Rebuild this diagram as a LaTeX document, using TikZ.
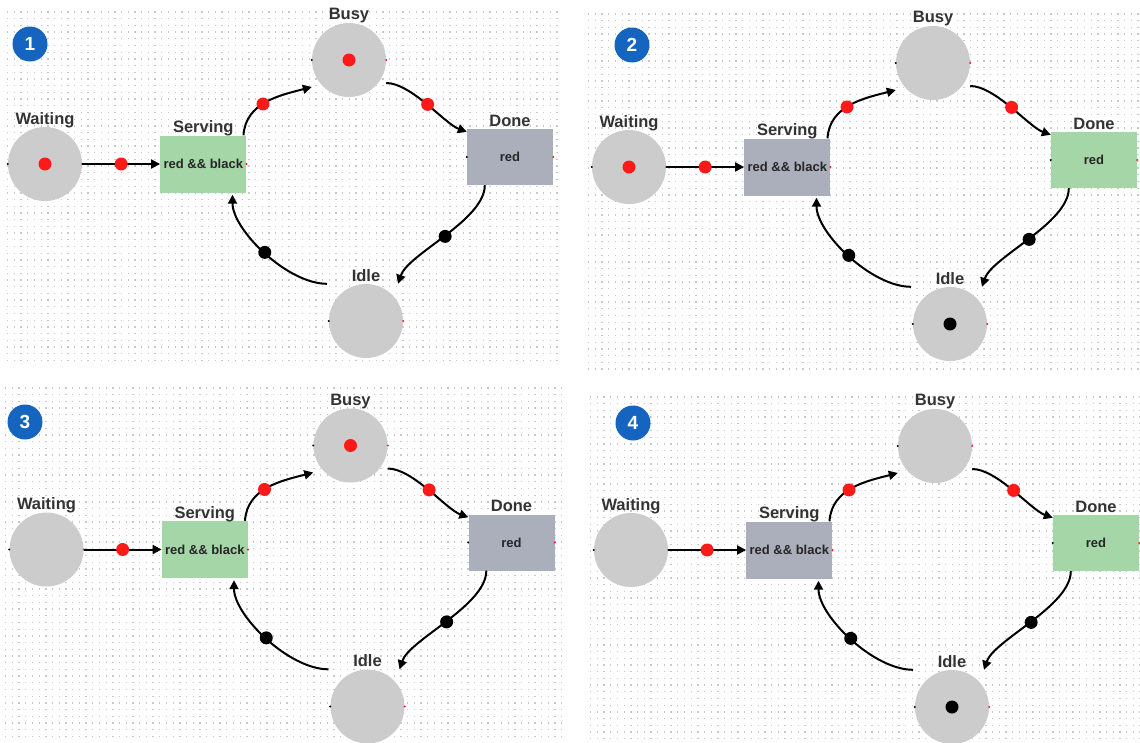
\documentclass[tikz,border=0pt]{standalone}
\usepackage{fontspec}
\setmainfont{Liberation Sans}
\usetikzlibrary{arrows.meta}

\definecolor{placegray}{HTML}{CCCCCC}
\definecolor{trangreen}{HTML}{A5D6A7}
\definecolor{trangray}{HTML}{ABAFBB}
\definecolor{tokred}{HTML}{FF1A1A}
\definecolor{badgeblue}{HTML}{1565C0}
\definecolor{dotgray}{HTML}{C8C8C8}
\definecolor{labelgray}{HTML}{333333}

\tikzset{
  place/.style={circle, fill=placegray, minimum size=74pt, inner sep=0pt},
  trans/.style={rectangle, fill=#1, minimum width=86pt, minimum height=57pt, inner sep=0pt,
    font=\bfseries\fontsize{13}{14}\selectfont, text=black!85},
  lbl/.style={anchor=base, inner sep=0pt, font=\bfseries\fontsize{16.5}{18}\selectfont, text=labelgray},
  redtok/.style={circle, fill=tokred, minimum size=13pt, inner sep=0pt},
  blacktok/.style={circle, fill=black, minimum size=13pt, inner sep=0pt},
  port/.style={circle, fill=#1, minimum size=2.2pt, inner sep=0pt},
  arc/.style={line width=2pt, -{Triangle[length=9pt,width=9pt]}},
  badge/.style={circle, fill=badgeblue, minimum size=35pt, inner sep=0pt, text=white,
    font=\bfseries\fontsize{19}{20}\selectfont},
  dotgrid/.style={dotgray, line width=1.3pt, dash pattern=on 1.3pt off 5.4pt},
}

% one net: #1 prefix, #2 shift, #3 Serving fill, #4 Done fill
\newcommand{\petripanel}[4]{%
\begin{scope}[shift={#2}]
  \node[place] (#1-w) at (45,164) {};
  \node[trans=#3] (#1-s) at (203.3,164) {red \&\& black};
  \node[place] (#1-b) at (349,60) {};
  \node[trans=#4, minimum height=56pt] (#1-d) at (510,157) {red};
  \node[place] (#1-i) at (366,321) {};
  % labels
  \node[lbl] (#1-wl) at ([yshift=2.6pt]#1-w.north) {Waiting};
  \node[lbl] (#1-sl) at ([yshift=2.4pt]#1-s.north) {Serving};
  \node[lbl] (#1-bl) at ([yshift=3.2pt]#1-b.north) {Busy};
  \node[lbl] (#1-dl) at ([yshift=2.8pt]#1-d.north) {Done};
  \node[lbl] (#1-il) at ([yshift=2.4pt]#1-i.north) {Idle};
  % ports
  \node[port=black] (#1-wp) at (#1-w.west) {};
  \node[port=tokred] (#1-wq) at (#1-w.east) {};
  \node[port=tokred] (#1-sq) at (#1-s.east) {};
  \node[port=black] (#1-bp) at (#1-b.west) {};
  \node[port=tokred] (#1-bq) at (#1-b.east) {};
  \node[port=black] (#1-dp) at (#1-d.west) {};
  \node[port=tokred] (#1-dq) at (#1-d.east) {};
  \node[port=black] (#1-ip) at (#1-i.west) {};
  \node[port=tokred] (#1-iq) at (#1-i.east) {};
  % arcs
  \draw[arc] (#1-w.east) -- (#1-s.west) node[redtok, pos=.5] (#1-t1) {};
  \draw[arc] ([xshift=-3pt]#1-s.north east) .. controls +(2,-33) and +(-31,8) ..
    ([yshift=-27pt]#1-b.west) node[redtok, pos=.45] (#1-t2) {};
  \draw[arc] ([yshift=-23pt]#1-b.east) .. controls +(25,0) and +(-22,-8) ..
    ([yshift=-3pt]#1-d.north west) node[redtok, pos=.5] (#1-t3) {};
  \draw[arc] ([xshift=18pt]#1-d.south west) .. controls +(0,35) and +(10,-30) ..
    ([xshift=32pt]#1-i.north) node[blacktok, pos=.5] (#1-t4) {};
  \draw[arc] ([xshift=-39pt]#1-i.north) .. controls +(-40,0) and +(0,35) ..
    ([xshift=-14pt,yshift=-2pt]#1-s.south east) node[blacktok, pos=.5] (#1-t5) {};
\end{scope}}

\begin{document}
\begin{tikzpicture}[x=1pt, y=-1pt]
  \useasboundingbox (0,0) rectangle (1140,742);
  \fill[white] (0,0) rectangle (1140,742);

  % dotted background of the four panels
  \foreach \xa/\xb/\ya/\n in {7/562/12/52, 588/1140/14/53, 5/563/388/52, 590/1140/397/51}{
    \foreach \k in {0,...,\n}
      \draw[dotgrid] (\xa,\ya+\k*6.7) -- (\xb,\ya+\k*6.7);
  }

  \petripanel{a}{(0,0)}{trangreen}{trangray}
  \node[redtok] (a-wt) at (a-w) {};
  \node[redtok] (a-bt) at (a-b) {};
  \node[badge] (a-n) at (30,44) {1};

  \petripanel{b}{(584,3)}{trangray}{trangreen}
  \node[redtok] (b-wt) at (b-w) {};
  \node[blacktok] (b-it) at (b-i) {};
  \node[badge] (b-n) at (632,45) {2};

  \petripanel{c}{(1.5,385.5)}{trangreen}{trangray}
  \node[redtok] (c-bt) at (c-b) {};
  \node[badge] (c-n) at (25,422) {3};

  \petripanel{d}{(586,386)}{trangray}{trangreen}
  \node[blacktok] (d-it) at (d-i) {};
  \node[badge] (d-n) at (633,423) {4};
\end{tikzpicture}
\end{document}
